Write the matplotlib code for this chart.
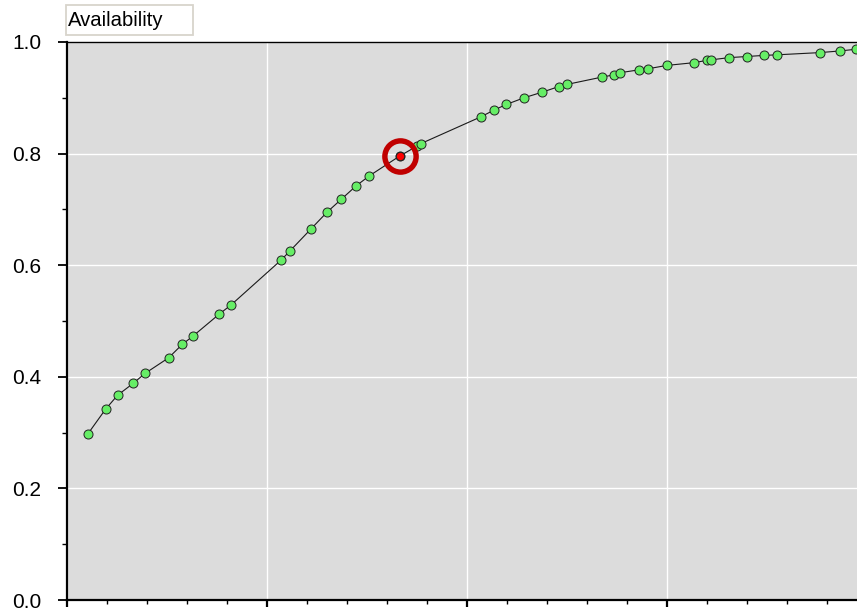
import matplotlib
matplotlib.use("Agg")
import matplotlib.pyplot as plt
from matplotlib.patches import Rectangle
from matplotlib.ticker import MultipleLocator, NullFormatter

plt.rcParams['font.family'] = ['Liberation Sans', 'DejaVu Sans']

# values
x_vals = [1.03, 1.93, 2.53, 3.30, 3.90, 5.08, 5.76, 6.30, 7.60, 8.21,
          10.70, 11.16, 12.20, 13.00, 13.71, 14.45, 15.11, 16.65, 17.48, 17.70,
          20.70, 21.35, 21.96, 22.85, 23.75, 24.58, 25.00, 26.73, 27.33, 27.66,
          28.58, 29.05, 29.98, 31.36, 31.98, 32.20, 33.11, 34.00, 34.85, 35.48,
          37.65, 38.66, 39.45]
availability = [0.297, 0.342, 0.367, 0.388, 0.406, 0.434, 0.458, 0.473, 0.512, 0.529,
                0.609, 0.626, 0.665, 0.695, 0.718, 0.742, 0.760, 0.796, 0.813, 0.818,
                0.866, 0.878, 0.888, 0.900, 0.910, 0.920, 0.924, 0.937, 0.941, 0.945,
                0.950, 0.952, 0.958, 0.963, 0.967, 0.968, 0.972, 0.974, 0.976, 0.977,
                0.981, 0.984, 0.987]
selected = 17  # index of the highlighted point

W, H = 857, 610
fig = plt.figure(figsize=(W / 100, H / 100), dpi=100)
ax = fig.add_axes([67 / W, 10 / H, 1 - 67 / W, 558 / H])
ax.set_facecolor("#DCDCDC")

ax.plot(x_vals, availability, color="#1a1a1a", linewidth=0.8, zorder=2)
ax.plot(x_vals, availability, linestyle="none", marker="o", markersize=6.5,
        markerfacecolor="#66EE66", markeredgecolor="#222222", markeredgewidth=0.7, zorder=3)
ax.plot(x_vals[selected], availability[selected], marker="o", markersize=6,
        markerfacecolor="#FF0000", markeredgecolor="#222222", markeredgewidth=0.7, zorder=4)
ax.plot(x_vals[selected], availability[selected], marker="o", markersize=22.5,
        markerfacecolor="none", markeredgecolor="#C00000", markeredgewidth=3.9, zorder=5)

ax.set_xlim(0, 39.5)
ax.set_ylim(0, 1.0)
ax.xaxis.set_major_locator(MultipleLocator(10))
ax.xaxis.set_minor_locator(MultipleLocator(2))
ax.yaxis.set_major_locator(MultipleLocator(0.2))
ax.yaxis.set_minor_locator(MultipleLocator(0.1))
ax.xaxis.set_major_formatter(NullFormatter())
ax.yaxis.set_major_formatter(matplotlib.ticker.FormatStrFormatter("%.1f"))

ax.grid(which="major", color="white", linewidth=1.0, zorder=0)
ax.set_axisbelow(True)

for side in ["left", "bottom"]:
    ax.spines[side].set_linewidth(1.6)
ax.spines["top"].set_linewidth(1.0)
ax.spines["right"].set_visible(False)

ax.tick_params(axis="y", which="major", length=6.5, width=1.3, pad=12, labelsize=15)
ax.tick_params(axis="y", which="minor", length=3.5, width=1.0)
ax.tick_params(axis="x", which="major", length=5, width=1.6)
ax.tick_params(axis="x", which="minor", length=3, width=1.0)

# legend-like title box
fig.patches.append(Rectangle((66 / W, 1 - 35 / H), 127 / W, 30 / H, transform=fig.transFigure,
                             facecolor="white", edgecolor="#D8D4CC", linewidth=1.3))
fig.text(68 / W, 1 - 20 / H, "Availability", fontsize=14.6, va="center", ha="left")

fig.savefig("out.png", dpi=100)
